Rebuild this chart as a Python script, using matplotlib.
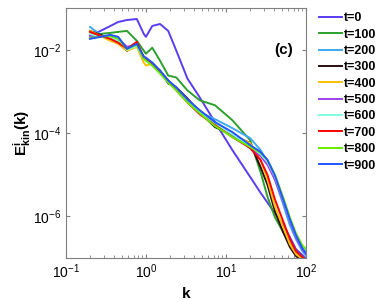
import numpy as np
import matplotlib
matplotlib.use('Agg')
import matplotlib.pyplot as plt
from matplotlib.ticker import LogLocator, NullFormatter, FixedLocator

plt.rcParams['font.family'] = ['Liberation Sans', 'DejaVu Sans']
plt.rcParams['mathtext.fontset'] = 'custom'
plt.rcParams['mathtext.rm'] = 'Liberation Sans'
plt.rcParams['mathtext.bf'] = 'Liberation Sans:bold'

# wavenumbers shared by all spectra
k = [0.2, 0.27, 0.36, 0.45, 0.58, 0.77, 0.94, 1.0, 1.2, 1.5, 1.9, 2.4, 3.3,
     4.7, 7.3, 12, 20, 27, 33, 41, 52, 63, 75, 90, 100]

# log10 of E_kin^i(k)
logE_t0 = [-1.667, -1.548, -1.429, -1.333, -1.286, -1.262, -1.619, -1.690, -1.429,
           -1.381, -1.548, -2.024, -2.690, -3.143, -3.738, -4.405, -5.048, -5.429,
           -5.667, -5.929, -6.190, -6.500, -6.786, -6.929, -7.024]
logE_t100 = [-1.619, -1.619, -1.595, -1.571, -1.548, -1.786, -2.024, -2.095, -1.952,
             -2.262, -2.619, -2.667, -2.976, -3.214, -3.333, -3.690, -4.167, -4.929,
             -5.524, -6.024, -6.381, -6.667, -6.857, -6.976, -7.048]
logE_t200 = [-1.452, -1.643, -1.738, -1.786, -2.024, -1.881, -2.190, -2.214, -2.310,
             -2.500, -2.738, -2.929, -3.214, -3.500, -3.667, -3.881, -4.119, -4.405,
             -4.690, -5.119, -5.714, -6.214, -6.548, -6.833, -6.952]
logE_t300 = [-1.548, -1.643, -1.738, -1.833, -2.024, -1.881, -2.167, -2.214, -2.357,
             -2.500, -2.810, -2.905, -3.167, -3.500, -3.857, -4.048, -4.238, -4.810,
             -5.238, -5.881, -6.381, -6.738, -6.952, -7.071, -7.143]
logE_t400 = [-1.548, -1.667, -1.786, -1.857, -2.024, -1.929, -2.310, -2.381, -2.333,
             -2.500, -2.786, -2.929, -3.214, -3.452, -3.786, -4.048, -4.238, -4.643,
             -5.119, -5.762, -6.262, -6.667, -6.905, -7.024, -7.095]
logE_t500 = [-1.667, -1.690, -1.690, -1.738, -1.929, -1.881, -2.214, -2.214, -2.333,
             -2.548, -2.738, -2.929, -3.214, -3.500, -3.810, -4.048, -4.357, -4.548,
             -4.762, -5.119, -5.643, -6.119, -6.500, -6.786, -6.905]
logE_t600 = [-1.619, -1.690, -1.714, -1.786, -2.000, -1.905, -2.214, -2.262, -2.357,
             -2.548, -2.786, -2.929, -3.214, -3.500, -3.786, -4.024, -4.310, -4.500,
             -4.690, -5.048, -5.595, -6.071, -6.452, -6.738, -6.833]
logE_t700 = [-1.571, -1.667, -1.738, -1.833, -1.976, -1.810, -2.190, -2.214, -2.333,
             -2.548, -2.738, -2.976, -3.262, -3.548, -3.810, -4.095, -4.357, -4.643,
             -5.000, -5.595, -6.119, -6.548, -6.833, -6.976, -7.048]
logE_t800 = [-1.714, -1.690, -1.667, -1.738, -1.976, -1.881, -2.214, -2.262, -2.381,
             -2.571, -2.786, -2.976, -3.262, -3.524, -3.833, -4.095, -4.333, -4.476,
             -4.643, -5.000, -5.548, -6.024, -6.405, -6.690, -6.786]
logE_t900 = [-1.738, -1.690, -1.643, -1.690, -1.976, -1.857, -2.167, -2.190, -2.310,
             -2.500, -2.738, -2.905, -3.190, -3.452, -3.738, -3.976, -4.286, -4.452,
             -4.643, -5.024, -5.595, -6.071, -6.452, -6.762, -6.881]

labels = ['t=0', 't=100', 't=200', 't=300', 't=400', 't=500', 't=600', 't=700', 't=800', 't=900']
series = [logE_t0, logE_t100, logE_t200, logE_t300, logE_t400,
          logE_t500, logE_t600, logE_t700, logE_t800, logE_t900]
colors = ['#5a3cf2', '#2ca02c', '#40a8f0', '#2a0c0c', '#ffc000',
          '#a040f0', '#80ffe0', '#ff0000', '#66ee00', '#2255ff']

fig = plt.figure(figsize=(3.81, 3.0), dpi=100)
ax = fig.add_axes([0.173, 0.14, 0.63, 0.833])

for lab, le, c in zip(labels, series, colors):
    ax.plot(k, 10 ** np.array(le), color=c, lw=1.4, label=lab)

ax.set_xscale('log')
ax.set_yscale('log')
ax.set_xlim(0.1, 100)
ax.set_ylim(1e-7, 1e-1)

ax.yaxis.set_major_locator(FixedLocator([1e-6, 1e-4, 1e-2]))
ax.yaxis.set_minor_locator(FixedLocator([]))
ax.xaxis.set_minor_locator(LogLocator(base=10, subs=np.arange(2, 10)))
ax.xaxis.set_minor_formatter(NullFormatter())

for s in ax.spines.values():
    s.set_color('#7f7f7f')
ax.tick_params(which='both', direction='in', top=True, right=True, colors='#7f7f7f',
               labelcolor='black', labelsize=10)
ax.tick_params(which='major', length=3)
ax.tick_params(which='minor', length=2)

ax.set_xlabel('k', fontsize=11, fontweight='bold', labelpad=4)
ax.set_ylabel(r'$\mathbf{E^{i}_{kin}(k)}$', fontsize=11, labelpad=0)

ax.text(0.908, 0.832, '(c)', transform=ax.transAxes, fontsize=11, fontweight='bold',
        ha='center', va='center')

fig.legend(loc='upper left', bbox_to_anchor=(0.825, 0.976), frameon=False,
           prop={'size': 9, 'weight': 'bold'}, handlelength=1.8, handletextpad=0.2,
           labelspacing=0.35, borderaxespad=0)

fig.savefig('out.png', dpi=100)
